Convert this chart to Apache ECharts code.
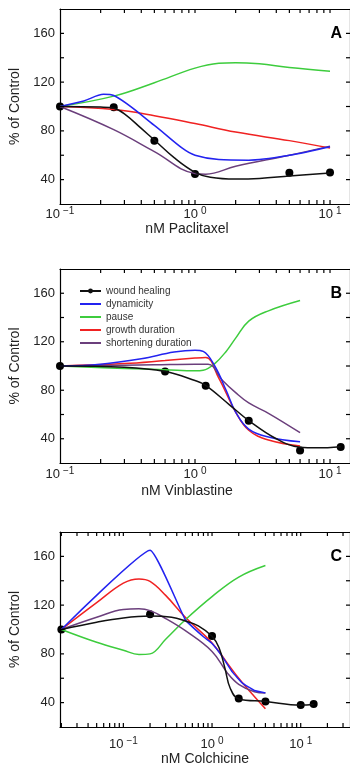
<!DOCTYPE html>
<html>
<head>
<meta charset="utf-8">
<script src="https://cdn.jsdelivr.net/npm/echarts@6/dist/echarts.min.js"></script>
<style>
html,body{margin:0;padding:0;background:#fff;}
#chart{width:350px;height:770px;}
</style>
</head>
<body>
<div id="chart"></div>
<script>
// ---------- DATA ----------
const seriesNames = ['wound healing','dynamicity','pause','growth duration','shortening duration'];
const xTitles = ['nM Paclitaxel','nM Vinblastine','nM Colchicine'];
const panelLetters = ['A','B','C'];
const yTickValues = [40, 60, 80, 100, 120, 140, 160];
const yTickLabels = [40, 80, 120, 160];
const xTickLabels = [0.1, 1, 10];

// Panel A: Paclitaxel
const paclitaxelWoundDots = [[0.1,100],[0.25,99.3],[0.5,72],[1,44.6],[5,45.7],[10,45.8]];
const paclitaxelWoundFit = [[0.1,100],[0.2,99.5],[0.25,98.5],[0.3,94],[0.4,82],[0.5,72.5],[0.7,58],[1,46],[1.3,42],[2,40.5],[3,41],[5,43],[10,45.5]];
const paclitaxelDynamicity = [[0.1,100],[0.15,104.5],[0.21,110],[0.25,109],[0.5,84.5],[0.8,66],[1,60],[1.5,56.5],[2.5,56],[5,60],[10,67]];
const paclitaxelPause = [[0.1,100],[0.25,108.5],[0.5,119.5],[1,131.5],[1.5,135.5],[2,136],[3,135],[5,132],[10,129]];
const paclitaxelGrowth = [[0.1,100],[0.25,97.5],[0.5,92.5],[1,86],[2,79],[5,72],[10,66]];
const paclitaxelShortening = [[0.1,100],[0.25,81],[0.5,63],[1,45],[1.2,44.5],[2,51],[5,60],[10,67.5]];

// Panel B: Vinblastine
const vinblastineWoundDots = [[0.1,100],[0.6,95.4],[1.2,83.7],[2.5,54.8],[6,30.4],[12,33.2]];
const vinblastineWoundFit = [[0.1,100],[0.3,99],[0.6,95.5],[1,88],[1.2,84],[1.8,68],[2.5,55],[4,40],[6,33],[8,32.5],[12,33.5]];
const vinblastineDynamicity = [[0.1,100],[0.2,101.5],[0.4,106],[0.7,111.5],[1,113],[1.15,112],[1.4,100],[1.7,80],[2,62],[2.5,48],[3.5,41.5],[6,37.5]];
const vinblastinePause = [[0.1,100],[0.3,98],[0.6,97],[1,96],[1.15,96.5],[1.4,102],[1.7,112],[2,123],[2.5,137],[3.5,145.5],[6,154]];
const vinblastineGrowth = [[0.1,100],[0.3,102],[0.6,104.5],[1,106.5],[1.2,107],[1.5,90],[2,62],[2.5,47],[3.5,39],[6,34]];
const vinblastineShortening = [[0.1,100],[0.5,101],[1,101.5],[1.25,101.5],[1.6,88],[2,78],[2.5,69.5],[3.5,61],[6,45]];

// Panel C: Colchicine
const colchicineWoundDots = [[0.02,100],[0.2,112.5],[1,94.6],[2,43.4],[4,40.9],[10,38.1],[14,38.9]];
const colchicineWoundFit = [[0.02,100],[0.05,106],[0.1,109.5],[0.2,111],[0.35,110],[0.5,107],[0.7,103],[1,94.5],[1.2,85],[1.4,68],[1.6,52],[2,43],[4,41],[10,38],[14,38.5]];
const colchicineDynamicity = [[0.02,100],[0.2,165],[0.5,108],[0.8,94],[1,88.5],[1.3,78],[1.7,65],[2.2,56],[3,50],[4,48]];
const colchicinePause = [[0.02,100],[0.05,89.5],[0.1,83],[0.15,79.5],[0.2,80],[0.3,92],[0.5,108],[1,127],[2,143],[4,152.5]];
const colchicineGrowth = [[0.02,100],[0.05,122],[0.1,138],[0.15,141.5],[0.2,139.5],[0.3,128],[0.5,110],[1,89],[1.5,72],[2,60],[3,45],[4,35]];
const colchicineShortening = [[0.02,100],[0.05,110],[0.1,116.5],[0.15,117],[0.2,115.5],[0.3,109],[0.5,99],[1,82],[1.5,64],[2,55],[3,49],[4,48]];

// ---------- LAYOUT / STYLE ----------
const colors = {wound:'#111111', dyn:'#2323f0', pause:'#3dcc3d', growth:'#f02222', short:'#6b3f7c'};
const panels = [
  {top:9,   height:195, xmin:0.1,    xmax:14.06, labelMargin:2,  nameGap:18, namePad:[0,36,0,0]},
  {top:269, height:194, xmin:0.1,    xmax:14.06, labelMargin:3,  nameGap:21, namePad:[0,36,0,0]},
  {top:532, height:195, xmin:0.0193, xmax:35.96, labelMargin:9,  nameGap:25, namePad:[0,0,0,0]}
];
const FONT = 'Liberation Sans, Arial, Helvetica, sans-serif';
const TICK = 4;

function logTickValues(min, max){
  const out = [];
  for (let e = -3; e <= 3; e++){
    for (let m = 1; m <= 9; m++){
      const v = +(m * Math.pow(10, e)).toPrecision(6);
      if (v > min * 1.0001 && v < max * 0.9999) out.push(v);
    }
  }
  return out;
}
function supLabel(v){
  const lg = Math.log10(v);
  const e = Math.round(lg);
  if (Math.abs(lg - e) > 1e-6) return '';
  const ok = xTickLabels.some(t => Math.abs(Math.log10(t) - e) < 1e-6);
  if (!ok) return '';
  return '{b|10}{s|' + (e < 0 ? '\u2212' + (-e) : e) + '}';
}
const mkLine = () => ({show:true, lineStyle:{color:'#000', width:1.2}});

const grids = [], xAxes = [], yAxes = [], graphics = [];
panels.forEach((p, i) => {
  grids.push({left:60, right:0, top:p.top, height:p.height});
  xAxes.push({
    type:'log', gridIndex:i, position:'bottom', min:p.xmin, max:p.xmax,
    axisLine:mkLine(), splitLine:{show:false}, axisTick:{show:false},
    axisLabel:{margin:p.labelMargin, formatter:supLabel, color:'#222', showMinLabel:true, showMaxLabel:false,
      rich:{b:{fontSize:13, fontFamily:FONT, color:'#222', lineHeight:15, verticalAlign:'bottom'},
            s:{fontSize:10, fontFamily:FONT, color:'#222', lineHeight:15, verticalAlign:'top', padding:[0,0,0,3]}}},
    name:xTitles[i], nameLocation:'middle', nameGap:p.nameGap,
    nameTextStyle:{fontSize:14, fontFamily:FONT, color:'#222', padding:p.namePad}
  });
  xAxes.push({
    type:'log', gridIndex:i, position:'top', min:p.xmin, max:p.xmax,
    axisLine:mkLine(), splitLine:{show:false}, axisTick:{show:false}, axisLabel:{show:false}
  });
  yAxes.push({
    type:'value', gridIndex:i, position:'left', min:20, max:180, interval:20,
    axisLine:mkLine(), splitLine:{show:false}, axisTick:{show:false},
    axisLabel:{margin:5, fontSize:13, fontFamily:FONT, color:'#222',
      formatter:v => yTickLabels.indexOf(v) >= 0 ? String(v) : ''},
    name:'% of Control', nameLocation:'middle', nameGap:27,
    nameTextStyle:{fontSize:14, fontFamily:FONT, color:'#222'}
  });
  yAxes.push({
    type:'value', gridIndex:i, position:'right', min:20, max:180, interval:20,
    axisLine:mkLine(), splitLine:{show:false}, axisTick:{show:false}, axisLabel:{show:false}
  });
  graphics.push({type:'text', right:8, top:p.top + 17, z:10, silent:true,
    style:{text:panelLetters[i], font:'bold 16px ' + FONT, fill:'#000'}});
});

const panelData = [
  [paclitaxelWoundFit, paclitaxelWoundDots, paclitaxelDynamicity, paclitaxelPause, paclitaxelGrowth, paclitaxelShortening],
  [vinblastineWoundFit, vinblastineWoundDots, vinblastineDynamicity, vinblastinePause, vinblastineGrowth, vinblastineShortening],
  [colchicineWoundFit, colchicineWoundDots, colchicineDynamicity, colchicinePause, colchicineGrowth, colchicineShortening]
];
const smoothBy = [
  {dyn:0.3, pause:0.4, growth:0.4, short:0.4},
  {dyn:0.4, pause:0.4, growth:0.4, short:0.4},
  {dyn:0.12, pause:0.4, growth:0.4, short:0.4}
];

const series = [];
panelData.forEach((d, i) => {
  const p = panels[i];
  const ax = {xAxisIndex:i*2, yAxisIndex:i*2};
  // inward ticks on all four sides, as small rect symbols placed by the axes' scales
  const tickSeries = (name, data, size, offset) => Object.assign({
    type:'scatter', name, data, symbol:'rect', symbolSize:size, symbolOffset:offset,
    silent:true, animation:false, clip:false, z:5,
    itemStyle:{color:'#000', opacity:1}
  }, ax);
  const xt = logTickValues(p.xmin, p.xmax);
  series.push(tickSeries('tick-b' + i, xt.map(v => [v, 20]),  [1.2, TICK], [0, -TICK/2]));
  series.push(tickSeries('tick-t' + i, xt.map(v => [v, 180]), [1.2, TICK], [0,  TICK/2]));
  series.push(tickSeries('tick-l' + i, yTickValues.map(v => [p.xmin, v]), [TICK, 1.2], [ TICK/2, 0]));
  series.push(tickSeries('tick-r' + i, yTickValues.map(v => [p.xmax, v]), [TICK, 1.2], [-TICK/2, 0]));

  const line = (name, data, color, smooth) => Object.assign({
    type:'line', name, data, smooth, symbol:'none', silent:true, animation:false,
    lineStyle:{color, width:1.5}, itemStyle:{color}
  }, ax);
  series.push(line(seriesNames[3], d[4], colors.growth, smoothBy[i].growth));
  series.push(line(seriesNames[2], d[3], colors.pause, smoothBy[i].pause));
  series.push(line(seriesNames[4], d[5], colors.short, smoothBy[i].short));
  series.push(line(seriesNames[1], d[2], colors.dyn, smoothBy[i].dyn));
  series.push(Object.assign({
    type:'line', name:seriesNames[0], data:d[0], smooth:0.4, symbol:'circle', symbolSize:5, showSymbol:false,
    silent:true, animation:false, lineStyle:{color:colors.wound, width:1.5}, itemStyle:{color:colors.wound}
  }, ax));
  series.push(Object.assign({
    type:'scatter', name:'wound healing data', data:d[1], symbol:'circle', symbolSize:8,
    silent:true, animation:false, itemStyle:{color:'#000', opacity:1}
  }, ax));
});

const chart = echarts.init(document.getElementById('chart'), null, {renderer:'canvas'});
chart.setOption({
  animation:false,
  backgroundColor:'#fff',
  graphic:graphics,
  grid:grids,
  xAxis:xAxes,
  yAxis:yAxes,
  legend:{
    data:seriesNames.map((n, k) => k === 0 ? {name:n} : {name:n, itemStyle:{opacity:0}}),
    orient:'vertical', left:79, top:286, padding:0,
    itemWidth:21, itemHeight:6, itemGap:3, selectedMode:false,
    textStyle:{fontSize:10, fontFamily:FONT, color:'#333'}
  },
  series
});
</script>
</body>
</html>
